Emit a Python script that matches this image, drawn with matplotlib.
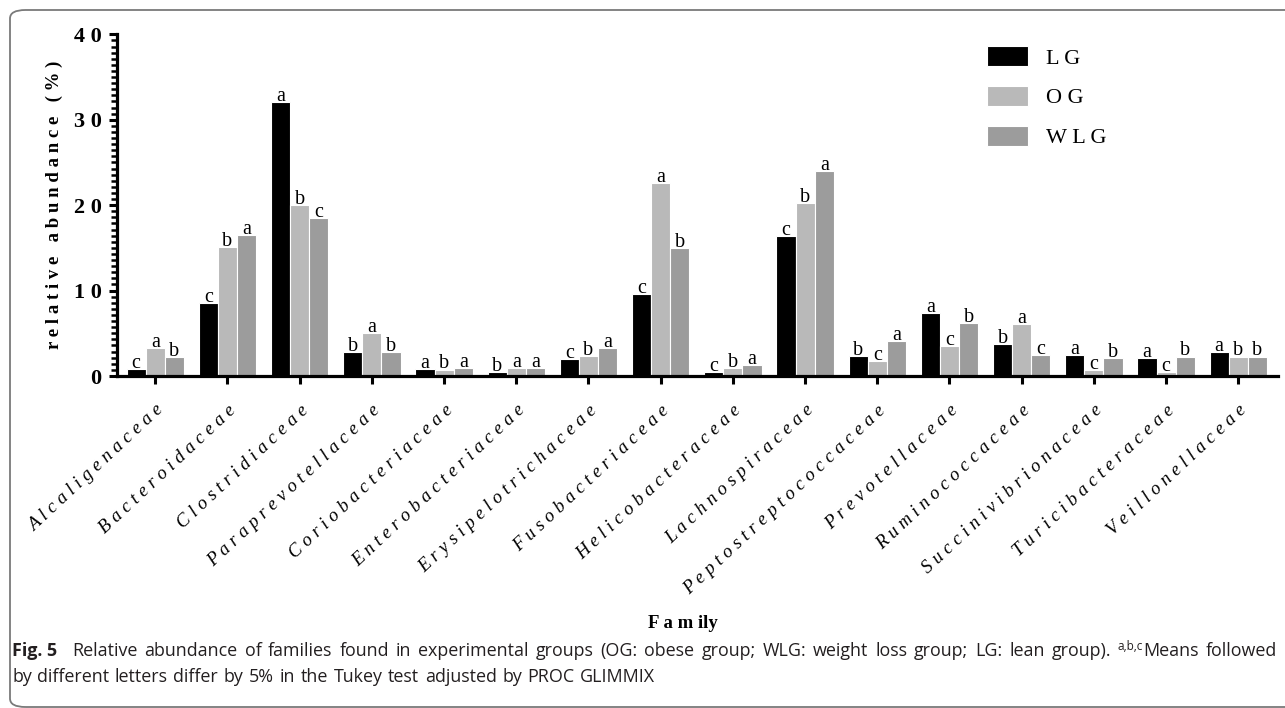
import numpy as np
import matplotlib
matplotlib.use("Agg")
import matplotlib.pyplot as plt
from matplotlib.patches import FancyBboxPatch, Patch
from matplotlib.ticker import MultipleLocator, FixedLocator
from matplotlib.transforms import IdentityTransform, ScaledTranslation

# ---- data ----
families = ["Alcaligenaceae", "Bacteroidaceae", "Clostridiaceae", "Paraprevotellaceae",
            "Coriobacteriaceae", "Enterobacteriaceae", "Erysipelotrichaceae", "Fusobacteriaceae",
            "Helicobacteraceae", "Lachnospiraceae", "Peptostreptococcaceae", "Prevotellaceae",
            "Ruminococcaceae", "Succinivibrionaceae", "Turicibacteraceae", "Veillonellaceae"]
groups = ["LG", "OG", "WLG"]

lg = [0.85, 8.55, 32.1, 2.76, 0.85, 0.45, 2.0, 9.6, 0.45, 16.4, 2.32, 7.4, 3.77, 2.48, 2.05, 2.84]
og = [3.27, 15.1, 20.0, 5.07, 0.76, 0.96, 2.3, 22.55, 0.88, 20.3, 1.78, 3.46, 6.07, 0.68, 0.49, 2.28]
wlg = [2.25, 16.5, 18.5, 2.84, 0.88, 0.96, 3.25, 15.0, 1.27, 24.0, 4.04, 6.15, 2.48, 2.05, 2.28, 2.28]

# significance letters (Tukey), one per bar
lg_letters = list("ccababccccbabaaa")
og_letters = list("abbabababbccaccb")
wlg_letters = list("bacbaaabaaabcbbb")

yticks = [0, 10, 20, 30, 40]

colors = ["#000000", "#b9b9b9", "#9c9c9c"]
serif = ["Liberation Serif", "DejaVu Serif"]
sans = ["Open Sans", "DejaVu Sans"]

W, H = 1285, 708
fig = plt.figure(figsize=(W / 100, H / 100), dpi=100)
ax = fig.add_axes([117 / W, 1 - 376 / H, (1278 - 117) / W, (376 - 34.3) / H])

x = np.arange(len(families))
bw = 0.265
series = [lg, og, wlg]
letter_sets = [lg_letters, og_letters, wlg_letters]
for i, (vals, lets) in enumerate(zip(series, letter_sets)):
    xs = x + (i - 1) * bw
    ax.bar(xs, vals, width=bw, color=colors[i], edgecolor="white", linewidth=0.8,
           label=" ".join(groups[i]), zorder=2)
    for xi, v, l in zip(xs, vals, lets):
        ax.text(xi, v + 0.12, l, ha="center", va="baseline", fontsize=14.5,
                family=serif, color="black", zorder=3)

ax.set_xlim(-0.53, 15.55)
ax.set_ylim(0, 40)
for s in ["top", "right"]:
    ax.spines[s].set_visible(False)
for s in ["left", "bottom"]:
    ax.spines[s].set_linewidth(2.3)

ax.yaxis.set_major_locator(FixedLocator(yticks))
ax.yaxis.set_minor_locator(MultipleLocator(10 / 14))
ax.set_yticklabels([" ".join(str(t)) for t in yticks], family=serif,
                   fontweight="bold", fontsize=16)
ax.tick_params(axis="y", which="major", length=6, width=2.2, pad=5)
ax.tick_params(axis="y", which="minor", length=4, width=1.8)

ax.set_xticks(x)
ax.set_xticklabels([" ".join(f) for f in families], rotation=43, ha="right",
                   va="center", rotation_mode="anchor", fontsize=13.5,
                   family=serif, style="italic")
ax.tick_params(axis="x", length=6, width=2.2, pad=17)
for lab in ax.get_xticklabels():
    lab.set_transform(lab.get_transform() + ScaledTranslation(0.06, 0, fig.dpi_scale_trans))

fig.text(54 / W, 1 - 205 / H, "r e l a t i v e   a b u n d a n c e   ( % )",
         rotation=90, ha="center", va="center", fontsize=13.5, fontweight="bold",
         family=serif)
fig.text(683 / W, 1 - 623 / H, "F a m ily", ha="center", va="center",
         fontsize=13.5, fontweight="bold", family=serif)

handles = [Patch(facecolor=c, edgecolor="white", linewidth=0.8) for c in colors]
ax.legend(handles, [" ".join(g) for g in groups], loc="upper left",
          bbox_to_anchor=(987 / W, 1 - 46 / H), bbox_transform=fig.transFigure,
          frameon=False, handlelength=1.85, handleheight=1.0,
          labelspacing=0.78, handletextpad=0.8, borderpad=0, borderaxespad=0,
          prop={"family": serif, "size": 16})

# rounded frame
frame = FancyBboxPatch((10 / W, 1 / H), 1.2, 697 / H, transform=fig.transFigure,
                       boxstyle="round,pad=0,rounding_size=0.012",
                       facecolor="none", edgecolor="#7a7a7a", linewidth=1.3,
                       clip_on=False)
fig.patches.append(frame)

# caption
fig.canvas.draw()
renderer = fig.canvas.get_renderer()
cap_col = "#231f20"
cap_size = 12.85


def text_width(s, size):
    t = fig.text(0, 0, s, fontsize=size, family=sans, transform=IdentityTransform())
    w = t.get_window_extent(renderer).width
    t.remove()
    return w


def place_token(x0, base, runs):
    # runs glued together without spaces; returns text objects and end x
    xx = x0
    objs = []
    for s, size, weight, dy in runs:
        t = fig.text(xx, H - base + dy, s, transform=IdentityTransform(),
                     fontsize=size, fontweight=weight, family=sans, color=cap_col,
                     va="baseline", ha="left")
        objs.append(t)
        xx = t.get_window_extent(renderer).x1
    return objs, xx


def caption_line(x0, x1, base, tokens, justify):
    placed = []
    total = 0
    for runs, gap_mult in tokens:
        objs, end = place_token(0, base, runs)
        placed.append((objs, end, gap_mult))
        total += end
    n_gaps = sum(g for _, _, g in placed[:-1])
    if justify:
        gap = (x1 - x0 - total) / n_gaps
    else:
        gap = text_width("a b", cap_size) - 2 * text_width("a", cap_size)
    xx = x0
    for objs, end, g in placed:
        for t in objs:
            t.set_x(t.get_position()[0] + xx)
        xx += end + g * gap


words1 = ("Relative abundance of families found in experimental groups (OG: obese group; "
          "WLG: weight loss group; LG: lean group).").split()
tokens1 = [([("Fig. 5", cap_size, "bold", 0)], 2.2)]
tokens1 += [([(w, cap_size, "normal", 0)], 1) for w in words1]
tokens1 += [([("a,b,c", 8.5, "normal", 6), ("Means", cap_size, "normal", 0)], 1),
            ([("followed", cap_size, "normal", 0)], 1)]
caption_line(12, 1277, 656, tokens1, justify=True)

words2 = "by different letters differ by 5% in the Tukey test adjusted by PROC GLIMMIX".split()
tokens2 = [([(w, cap_size, "normal", 0)], 1) for w in words2]
caption_line(12, 0, 682, tokens2, justify=False)

fig.savefig("out.png", dpi=100)
